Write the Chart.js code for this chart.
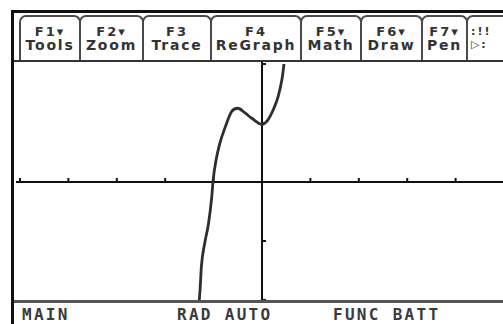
<!DOCTYPE html>
<html>
<head>
<meta charset="utf-8">
<script src="https://cdn.jsdelivr.net/npm/chart.js@4"></script>
<style>
	html, body { margin: 0; padding: 0; background: #fff; overflow: hidden; }
	body { width: 503px; height: 324px; position: relative; }
	.bar { position: absolute; background: #111; }
	.tab {
		position: absolute; top: 15px; height: 46px; box-sizing: border-box;
		border: 2px solid #4a4a4a; border-bottom: none; border-radius: 7px 7px 0 0;
		color: #333; font-family: "DejaVu Sans", sans-serif; font-weight: bold; text-align: center;
		white-space: nowrap; overflow: hidden;
	}
	.tab .t1 { position: absolute; left: 0; right: 0; top: 8px; font-size: 13px; line-height: 13px; letter-spacing: 2px; }
	.tab .t2 { position: absolute; left: 0; right: 0; top: 21px; font-size: 14px; line-height: 14px; letter-spacing: 1.8px; }
	.status {
		position: absolute; top: 307px; font-family: "DejaVu Sans Mono", monospace; font-weight: bold;
		font-size: 16px; line-height: 16px; letter-spacing: 2.3px; color: #3a3a3a; white-space: nowrap;
	}
	#plot { position: absolute; left: 14px; top: 62px; width: 490px; height: 238px; }
</style>
</head>
<body>
<div class="bar" style="left:11px; top:10px; width:3px; height:314px;"></div>
<div class="bar" style="left:11px; top:10px; width:492px; height:3px;"></div>
<div id="tabs"></div>
<div class="bar" style="left:14px; top:60px; width:489px; height:2px; background:#333;"></div>
<div id="plot"><canvas id="graph"></canvas></div>
<div class="bar" style="left:14px; top:300px; width:489px; height:3px; background:#555;"></div>
<div class="status" style="left:22px;">MAIN</div>
<div class="status" style="left:177px;">RAD AUTO</div>
<div class="status" style="left:333px;">FUNC BATT</div>

<script>
// curve (window x: -5..5, y: -2..2)
const curveX = [-1.30, -1.28, -1.25, -1.18, -1.11, -1.04, -1.01, -0.95, -0.87, -0.76, -0.63, -0.50, -0.35, -0.21, 0, 0.12, 0.23, 0.33, 0.41, 0.44, 0.46];
const curveY = [-2.05, -1.83, -1.41, -1.02, -0.73, -0.27, 0.03, 0.37, 0.66, 0.93, 1.19, 1.25, 1.17, 1.08, 0.98, 1.05, 1.22, 1.44, 1.73, 1.90, 2.05];

const xTicks = [-5, -4, -3, -2, -1, 1, 2, 3, 4, 5];
const yTicks = [-2, -1, 1, 2];

const tabEdges = [20, 80, 143, 211, 301, 361, 422, 467, 530];
const tabTop = ["F1▾", "F2▾", "F3", "F4", "F5▾", "F6▾", "F7▾", ":!!"];
const tabBottom = ["Tools", "Zoom", "Trace", "ReGraph", "Math", "Draw", "Pen", "▷:"];

const tabs = document.getElementById("tabs");
tabTop.forEach((label, i) => {
	const tab = document.createElement("div");
	tab.className = "tab";
	tab.style.left = `${tabEdges[i] - 1}px`;
	tab.style.width = `${tabEdges[i + 1] - tabEdges[i] + 2}px`;
	if (i === tabTop.length - 1) tab.style.textAlign = "left";
	tab.innerHTML = `<div class="t1" style="${i === 7 ? "padding-left:3px;font-size:11px" : ""}">${label}</div>` +
		`<div class="t2" style="${i === 7 ? "padding-left:3px;font-size:11px" : ""}">${tabBottom[i]}</div>`;
	tabs.appendChild(tab);
});

const axesPlugin = {
	id: "tiAxes",
	beforeDatasetsDraw(chart) {
		const { ctx, scales } = chart;
		const x0 = scales.x.getPixelForValue(0);
		const y0 = scales.y.getPixelForValue(0);
		ctx.save();
		ctx.fillStyle = "#111";
		ctx.fillRect(2, y0 - 1, chart.width, 2);
		ctx.fillRect(x0 - 1, 0, 2, chart.height);
		xTicks.forEach((v) => {
			const px = scales.x.getPixelForValue(v);
			ctx.fillRect(px - 1, y0 - 4, 2, 3);
		});
		yTicks.forEach((v) => {
			const py = scales.y.getPixelForValue(v);
			ctx.fillRect(x0 + 1, py - 1, 3, 2);
		});
		ctx.restore();
	}
};

new Chart(document.getElementById("graph"), {
	type: "scatter",
	data: {
		datasets: [{
			data: curveX.map((x, i) => ({ x, y: curveY[i] })),
			showLine: true,
			borderColor: "#2e2e2e",
			borderWidth: 2.8,
			pointRadius: 0,
			cubicInterpolationMode: "monotone"
		}]
	},
	options: {
		responsive: true,
		maintainAspectRatio: false,
		animation: false,
		layout: { padding: { left: 6, top: 2, right: 0, bottom: 0 } },
		plugins: { legend: { display: false }, tooltip: { enabled: false } },
		scales: {
			x: { type: "linear", min: -5, max: 5, display: false },
			y: { type: "linear", min: -2, max: 2, display: false }
		}
	},
	plugins: [axesPlugin]
});
</script>
</body>
</html>
